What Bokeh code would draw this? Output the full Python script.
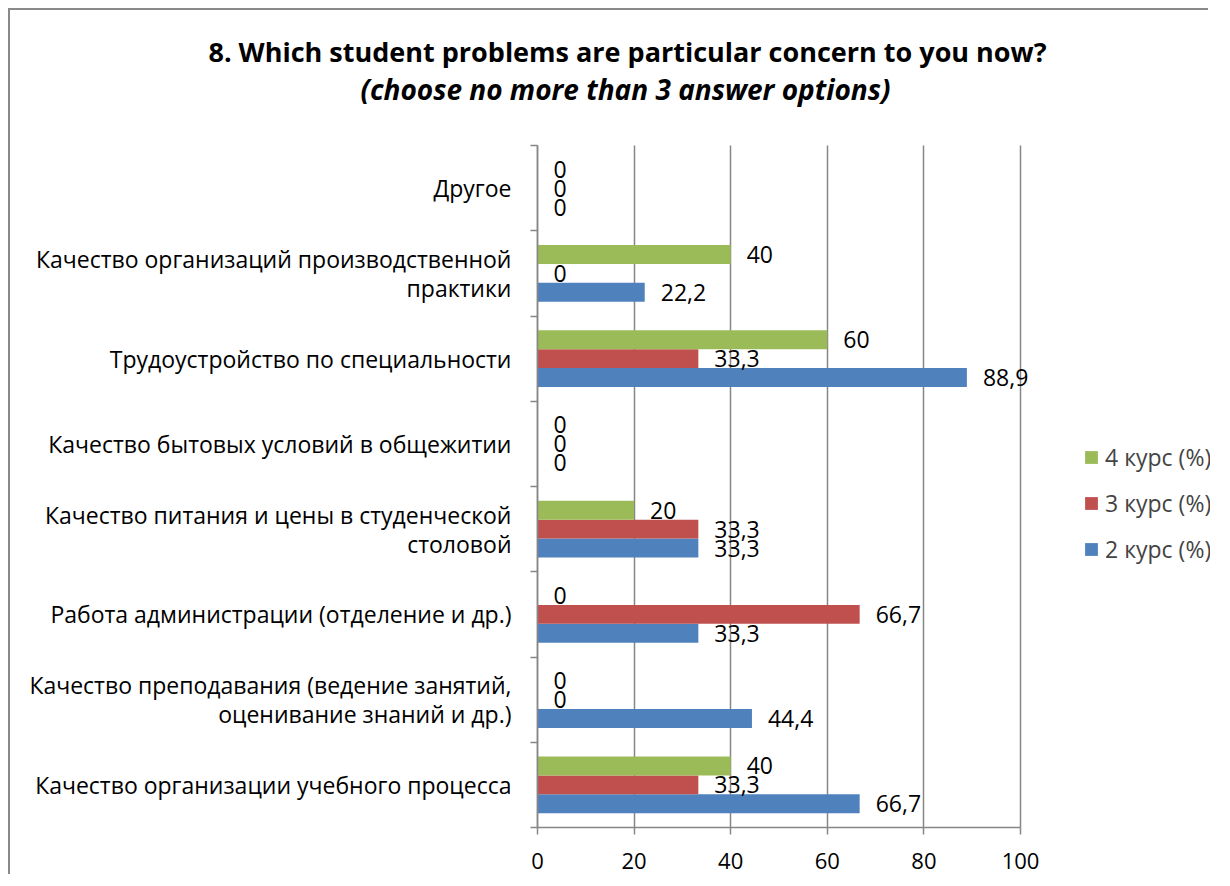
from bokeh.plotting import figure
from bokeh.models import (Range1d, LinearAxis, FixedTicker,
                          ColumnDataSource, Legend, LegendItem, Label, Grid)
from bokeh.transform import dodge
from bokeh.core.properties import value
from bokeh.embed import file_html
from bokeh.resources import INLINE

# ---------------- data ----------------
categories = [
    "Качество организации учебного процесса",
    "Качество преподавания (ведение занятий,\nоценивание знаний и др.)",
    "Работа администрации (отделение и др.)",
    "Качество питания и цены в студенческой\nстоловой",
    "Качество бытовых условий в общежитии",
    "Трудоустройство по специальности",
    "Качество организаций производственной\nпрактики",
    "Другое",
]
kurs2 = [66.7, 44.4, 33.3, 33.3, 0, 88.9, 22.2, 0]
kurs3 = [33.3, 0, 66.7, 33.3, 0, 33.3, 0, 0]
kurs4 = [40, 0, 0, 20, 0, 60, 40, 0]
series_names = ["2 курс (%)", "3 курс (%)", "4 курс (%)"]
x_ticks = [0, 20, 40, 60, 80, 100]
title_line1 = "8. Which student problems are particular concern to you now?"
title_line2 = "(choose no more than 3 answer options)"

# ---------------- style / layout ----------------
FONT = "Open Sans"
GRAY = "#868686"
BLUE = "#4F81BD"
RED = "#C0504D"
GREEN = "#9BBB59"

W, H = 1200, 866            # canvas size
PLOT_L, PLOT_R = 527, 1010  # pixel extent of the value axis (0..100) in canvas
PLOT_T, PLOT_B = 135, 817   # pixel extent of the category band area


def fmt(v):
    return f"{v:g}".replace(".", ",")


n = len(categories)
centers = [i + 0.5 for i in range(n)]
xmax = x_ticks[-1]

# ranges chosen so that the whole canvas is the frame (nothing gets clipped)
ppx = (PLOT_R - PLOT_L) / xmax
ppy = (PLOT_B - PLOT_T) / n
x_start = -PLOT_L / ppx
x_end = (W - PLOT_L) / ppx
y_start = -(H - PLOT_B) / ppy
y_end = n + PLOT_T / ppy

src = ColumnDataSource(dict(
    pos=centers,
    k2=kurs2, k3=kurs3, k4=kurs4,
    l2=[fmt(v) for v in kurs2],
    l3=[fmt(v) for v in kurs3],
    l4=[fmt(v) for v in kurs4],
))

p = figure(width=W, height=H,
           x_range=Range1d(x_start, x_end), y_range=Range1d(y_start, y_end),
           x_axis_location=None, y_axis_location=None,
           output_backend="svg", toolbar_location=None,
           min_border=0)
p.outline_line_color = None
p.background_fill_color = "white"
p.border_fill_color = "white"
p.center = [r for r in p.center if not isinstance(r, Grid)]
p.styles = {"margin-left": "8px", "margin-top": "8px",
            "border-top": "2px solid #898989", "border-left": "2px solid #898989"}

# grid (vertical lines only over the category area)
grid = Grid(dimension=0, ticker=FixedTicker(ticks=x_ticks),
            grid_line_color=GRAY, grid_line_width=1.5)
try:
    grid.cross_bounds = (0, n)
    p.add_layout(grid)
except Exception:
    p.segment(x0=x_ticks, x1=x_ticks, y0=[0] * len(x_ticks), y1=[n] * len(x_ticks),
              line_color=GRAY, line_width=1.5)

# axes
xaxis = LinearAxis(fixed_location=0, bounds=(0, xmax),
                   ticker=FixedTicker(ticks=x_ticks),
                   axis_line_color=GRAY, axis_line_width=1.5,
                   major_tick_line_color=GRAY, major_tick_line_width=1.5,
                   major_tick_in=0, major_tick_out=7,
                   minor_tick_line_color=None,
                   major_label_standoff=18,
                   major_label_text_font=FONT, major_label_text_font_size="22px",
                   major_label_text_color="black")
p.add_layout(xaxis, "below")

ytick = LinearAxis(fixed_location=0, bounds=(0, n),
                   ticker=FixedTicker(ticks=list(range(n + 1))),
                   major_label_overrides={i: "" for i in range(n + 1)},
                   major_label_text_font_size="1px", major_label_standoff=0,
                   axis_line_color=GRAY, axis_line_width=1.5,
                   major_tick_line_color=GRAY, major_tick_line_width=1.5,
                   major_tick_in=0, major_tick_out=7,
                   minor_tick_line_color=None)
p.add_layout(ytick, "left")

ycat = LinearAxis(fixed_location=0, bounds=(0, n),
                  ticker=FixedTicker(ticks=centers),
                  major_label_overrides={c: name for c, name in zip(centers, categories)},
                  axis_line_color=None, major_tick_line_color=None,
                  minor_tick_line_color=None,
                  major_tick_in=0, major_tick_out=0,
                  major_label_standoff=26,
                  major_label_text_font=FONT, major_label_text_font_size="23px",
                  major_label_text_line_height=0.9,
                  major_label_text_align="center",
                  major_label_text_color="black")
p.add_layout(ycat, "left")

# bars
bw = 1 / 4.5
r2 = p.hbar(y=dodge("pos", -bw), left=0, right="k2", height=bw,
            source=src, fill_color=BLUE, line_color=None)
r3 = p.hbar(y=dodge("pos", 0), left=0, right="k3", height=bw,
            source=src, fill_color=RED, line_color=None)
r4 = p.hbar(y=dodge("pos", bw), left=0, right="k4", height=bw,
            source=src, fill_color=GREEN, line_color=None)

for col, lab, off in (("k2", "l2", -bw), ("k3", "l3", 0), ("k4", "l4", bw)):
    p.text(x=col, y=dodge("pos", off), text=lab, source=src,
           x_offset=16, text_align="left", text_baseline="middle",
           text_font=value(FONT), text_font_size="23px", text_color="black")

# titles (screen units measured from the bottom-left of the canvas/frame)
p.add_layout(Label(x=617, y=H - 41, x_units="screen", y_units="screen", text=title_line1,
                   text_align="center", text_baseline="middle",
                   text_font=FONT, text_font_style="bold", text_font_size="27px",
                   text_color="black"))
p.add_layout(Label(x=615, y=H - 78, x_units="screen", y_units="screen", text=title_line2,
                   text_align="center", text_baseline="middle",
                   text_font=FONT, text_font_style="bold italic", text_font_size="28px",
                   text_color="black"))

# legend
legend = Legend(items=[LegendItem(label=series_names[2], renderers=[r4]),
                       LegendItem(label=series_names[1], renderers=[r3]),
                       LegendItem(label=series_names[0], renderers=[r2])],
                location=(1073, H - 860 + 305), orientation="vertical",
                padding=0, margin=0, border_line_color=None, background_fill_alpha=0,
                glyph_width=16, glyph_height=16, label_standoff=6, spacing=14,
                label_text_font=FONT, label_text_font_size="23px")
p.add_layout(legend)

open("out.html", "w").write(file_html(p, INLINE))
